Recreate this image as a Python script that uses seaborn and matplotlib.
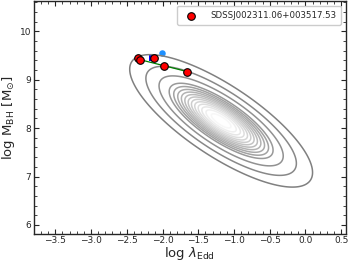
import numpy as np
import matplotlib
matplotlib.use("Agg")
import matplotlib.pyplot as plt
import seaborn as sns

# object epochs (log lambda_Edd, log M_BH)
obj_x = [-2.35, -2.31, -2.12, -1.98, -1.66]
obj_y = [9.44, 9.40, 9.44, 9.29, 9.17]
# green track
track_x = [-2.33, -1.98, -1.66]
track_y = [9.42, 9.29, 9.17]
# extra markers
blue_x, blue_y = [-2.15], [9.44]
lblue_x, lblue_y = [-2.01], [9.55]

# background population (bivariate normal summary)
pop_mean = (-1.18, 8.15)
pop_std = (0.43, 0.46)
pop_rho = -0.78
pop_levels = [0.012, 0.05, 0.13] + list(np.linspace(0.24, 0.95, 12))

label = "SDSSJ002311.06+003517.53"

sns.set_style("ticks")
plt.rcParams['font.family'] = ['DejaVu Sans']

fig, ax = plt.subplots(figsize=(3.49, 2.64), dpi=100)

gx = np.linspace(-3.8, 0.6, 300)
gy = np.linspace(5.8, 10.6, 300)
X, Y = np.meshgrid(gx, gy)
zx = (X - pop_mean[0]) / pop_std[0]
zy = (Y - pop_mean[1]) / pop_std[1]
Z = np.exp(-(zx**2 - 2 * pop_rho * zx * zy + zy**2) / (2 * (1 - pop_rho**2)))
greys = [str(g) for g in np.linspace(0.5, 0.97, len(pop_levels))]
ax.contour(X, Y, Z, levels=pop_levels, colors=greys, linewidths=1.1)

sns.lineplot(x=track_x, y=track_y, color="green", lw=0.9, ax=ax, sort=False)
sns.scatterplot(x=blue_x, y=blue_y, color="blue", marker="s", s=14,
                linewidth=0, ax=ax)
sns.scatterplot(x=lblue_x, y=lblue_y, color="dodgerblue", marker="o", s=22,
                linewidth=0, ax=ax)
sns.scatterplot(x=obj_x, y=obj_y, color="red", edgecolor="black", s=30,
                linewidth=0.8, ax=ax, label=label, zorder=5)

ax.set_xlim(-3.8, 0.56)
ax.set_ylim(5.82, 10.62)
ax.set_xticks(np.arange(-3.5, 0.51, 0.5))
ax.set_yticks([6, 7, 8, 9, 10])
ax.minorticks_on()
ax.tick_params(which="both", direction="in", top=True, right=True,
               labelsize=6.5, pad=2)
ax.tick_params(which="major", length=3.5)
ax.tick_params(which="minor", length=2)
for s in ax.spines.values():
    s.set_linewidth(1.0)
ax.set_xlabel(r"log $\lambda_{\rm Edd}$", fontsize=9.5, labelpad=0)
ax.set_ylabel(r"log M$_{\rm BH}$ [M$_{\odot}$]", fontsize=9.5, labelpad=2)
ax.legend(loc="upper right", fontsize=6.2, handletextpad=1.2,
          borderpad=0.6, framealpha=1)

fig.subplots_adjust(left=0.097, right=0.99, top=0.995, bottom=0.115)
fig.savefig("out.png", dpi=100)
